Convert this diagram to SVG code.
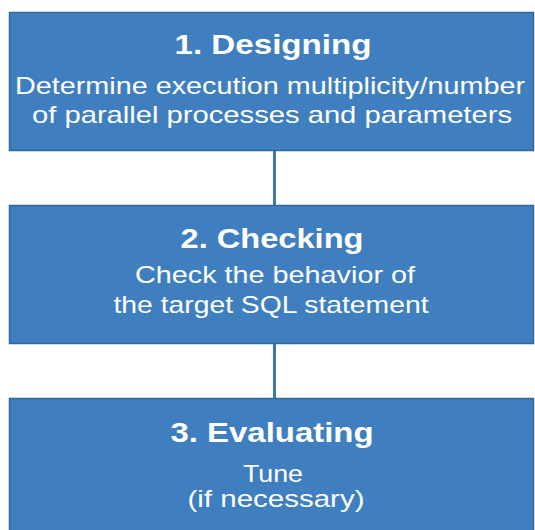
<svg xmlns="http://www.w3.org/2000/svg" width="535" height="530" viewBox="0 0 535 530">
<style>
.box{fill:#3f7fc0;stroke:#2e6a98;stroke-width:1.5}
.t{font-family:"Liberation Sans",Arial,sans-serif;fill:#ffffff;text-anchor:middle}
.h{font-size:28px;font-weight:bold}
.s{font-size:24px}
.c{stroke:#3a77b4;stroke-width:3;fill:none}
</style>
<rect width="535" height="530" fill="#ffffff"/>
<g id="connectors">
<line class="c" x1="274.5" y1="151" x2="274.5" y2="205"/>
<line class="c" x1="274.5" y1="344" x2="274.5" y2="398"/>
</g>
<g id="node1">
<rect class="box" x="9.5" y="12.5" width="524" height="138"/>
<text class="t h" x="273" y="54" textLength="197" lengthAdjust="spacingAndGlyphs">1. Designing</text>
<text class="t s" x="270" y="94" textLength="510" lengthAdjust="spacingAndGlyphs">Determine execution multiplicity/number</text>
<text class="t s" x="272" y="123" textLength="480" lengthAdjust="spacingAndGlyphs">of parallel processes and parameters</text>
</g>
<g id="node2">
<rect class="box" x="9.5" y="205.5" width="524" height="138"/>
<text class="t h" x="272" y="248" textLength="183" lengthAdjust="spacingAndGlyphs">2. Checking</text>
<text class="t s" x="275" y="283" textLength="280" lengthAdjust="spacingAndGlyphs">Check the behavior of</text>
<text class="t s" x="271" y="313" textLength="315" lengthAdjust="spacingAndGlyphs">the target SQL statement</text>
</g>
<g id="node3">
<rect class="box" x="9.5" y="398.5" width="524" height="140"/>
<text class="t h" x="272" y="442" textLength="203" lengthAdjust="spacingAndGlyphs">3. Evaluating</text>
<text class="t s" x="273" y="482" textLength="60" lengthAdjust="spacingAndGlyphs">Tune</text>
<text class="t s" x="276" y="507" textLength="177" lengthAdjust="spacingAndGlyphs">(if necessary)</text>
</g>
</svg>
